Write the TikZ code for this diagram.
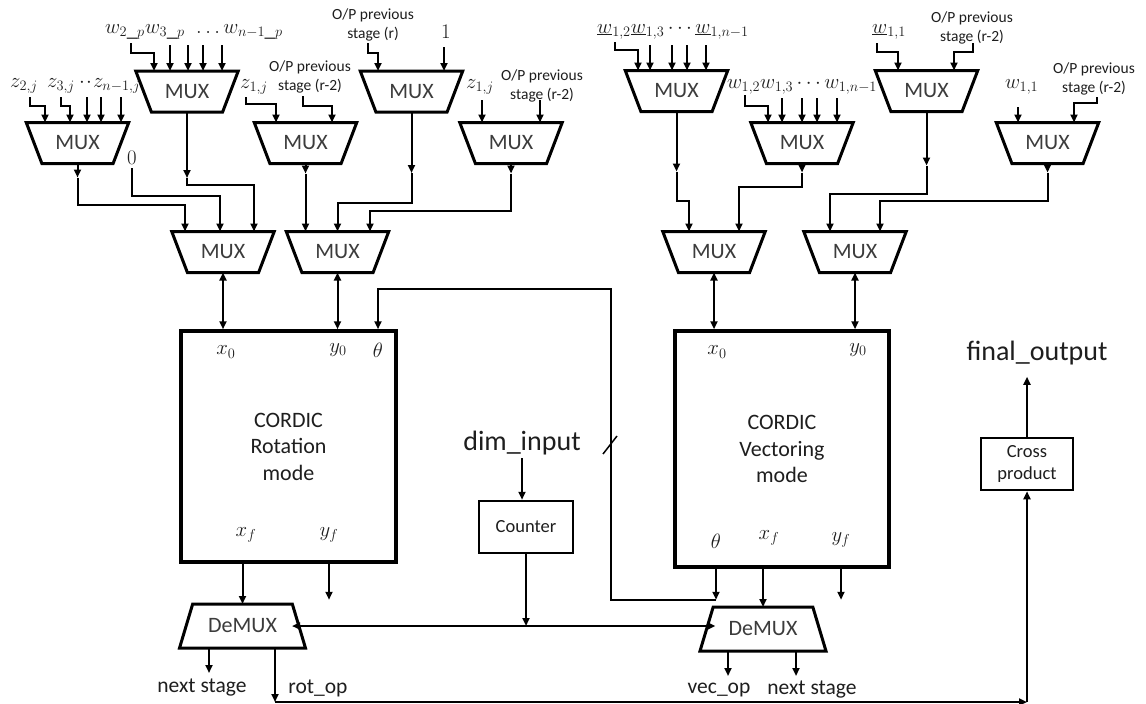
\documentclass[tikz,border=0pt]{standalone}
\usepackage[no-math]{fontspec}
\setmainfont{Carlito}
\usetikzlibrary{shapes.geometric,arrows.meta}
\definecolor{ink}{HTML}{1E1E1E}
\definecolor{muxtext}{HTML}{3C3C3C}
\newcommand{\setfs}[2]{\fontsize{#1}{#2}\selectfont}

\begin{document}
\begin{tikzpicture}[x=1pt, y=-1pt,
  >={Triangle[length=8pt,width=7pt]},
  wire/.style={line width=2pt},
  arr/.style={wire, ->},
  darr/.style={wire, <->},
  mux/.style={draw, line width=3pt, trapezium, trapezium stretches=true,
    shape border rotate=180, trapezium angle=55.7,
    minimum width=103pt, minimum height=41pt, inner sep=0pt,
    text=muxtext, font=\setfs{22}{26}},
  demux/.style={draw, line width=3pt, trapezium, trapezium stretches=true,
    trapezium angle=57.5, minimum width=127pt, minimum height=44pt,
    inner sep=0pt, text=muxtext, font=\setfs{22}{26}},
  cordic/.style={draw, line width=3.5pt, rectangle, align=center,
    text=ink, font=\setfs{22}{26.5}},
  smallbox/.style={draw, line width=2.5pt, rectangle, align=center,
    text=ink, font=\setfs{18.5}{22}},
  mlab/.style={text=ink, inner sep=0pt, font=\setfs{22}{26}},
  wlab/.style={text=ink, inner sep=0pt, anchor=base west, font=\setfs{21}{25}},
  oplab/.style={text=ink, inner sep=0pt, align=center, font=\setfs{15.5}{19}},
  big/.style={text=ink, inner sep=0pt, font=\setfs{28}{32}},
  io/.style={text=ink, inner sep=0pt, font=\setfs{21.5}{25}},
]
\useasboundingbox (0,0) rectangle (1146,704);
\fill[white] (0,0) rectangle (1146,704);

% ---------- multiplexers ----------
\node[mux] (m1) at (77.5,143) {MUX};
\node[mux] (m2) at (187,91.5) {MUX};
\node[mux] (m3) at (305.5,143) {MUX};
\node[mux] (m4) at (411.5,91.5) {MUX};
\node[mux] (m5) at (511,143) {MUX};
\node[mux] (m6) at (676.5,91) {MUX};
\node[mux] (m7) at (802,143) {MUX};
\node[mux] (m8) at (926.5,91) {MUX};
\node[mux] (m9) at (1047.5,143) {MUX};
\node[mux] (l1) at (223,252) {MUX};
\node[mux] (l2) at (337.5,252) {MUX};
\node[mux] (r1) at (714,252) {MUX};
\node[mux] (r2) at (855,252) {MUX};

% ---------- CORDIC blocks ----------
\node[cordic, minimum width=215pt, minimum height=231pt] (rot) at (288.5,446.5) {CORDIC\\Rotation\\mode};
\node[cordic, minimum width=214pt, minimum height=236pt] (vec) at (782,449) {CORDIC\\Vectoring\\mode};

\node[mlab] (rx0) at (226,352) {$x_0$};
\node[mlab] (ry0) at (338,350) {$y_0$};
\node[mlab] (rth) at (378,350) {$\theta$};
\node[mlab] (rxf) at (246,535) {$x_f$};
\node[mlab] (ryf) at (329,535) {$y_f$};
\node[mlab] (vx0) at (717,352) {$x_0$};
\node[mlab] (vy0) at (858,350) {$y_0$};
\node[mlab] (vth) at (716,541) {$\theta$};
\node[mlab] (vxf) at (769,538) {$x_f$};
\node[mlab] (vyf) at (841,540) {$y_f$};

% ---------- other blocks ----------
\node[smallbox, minimum width=94pt, minimum height=52pt] (cnt) at (526,527) {Counter};
\node[smallbox, minimum width=92pt, minimum height=52pt] (cross) at (1027,464) {Cross\\product};
\node[demux] (ldem) at (242.5,626) {DeMUX};
\node[demux] (vdem) at (763,629) {DeMUX};

\node[big] (dim) at (522,443) {dim\_input};
\node[big] (fout) at (1037,353) {final\_output};

% ---------- input labels ----------
\node[wlab] (lz2) at (10,87) {$z_{2,j}$};
\node[wlab] (lz3) at (47,87) {$z_{3,j}$};
\node[wlab] (lzn) at (79,87) {$\cdot\!\cdot\!z_{n-1,j}$};
\node[wlab] (lw2) at (105,33) {$w_{2\_p}$};
\node[wlab] (lw3) at (145,33) {$w_{3\_p}$};
\node[wlab] (lwn) at (196,33) {$\ldots w_{n-1\_p}$};
\node[wlab] (lz1a) at (240,88) {$z_{1,j}$};
\node[oplab] (op3) at (310,76.5) {O/P previous\\stage (r-2)};
\node[oplab] (op4) at (373,24.5) {O/P previous\\stage (r)};
\node[mlab, font=\setfs{20}{24}] (one) at (446,32) {$1$};
\node[mlab, font=\setfs{20}{24}] (zero) at (132,158) {$0$};
\node[wlab] (lz1b) at (466,88) {$z_{1,j}$};
\node[oplab] (op5) at (542,85.5) {O/P previous\\stage (r-2)};
\node[wlab] (lw6) at (597,33) {$\underline{w}_{1,2}\underline{w}_{1,3}\cdots\underline{w}_{1,n-1}$};
\node[wlab] (lw7) at (727,88) {$w_{1,2}w_{1,3}\cdots w_{1,n-1}$};
\node[wlab] (lw8) at (872,33) {$\underline{w}_{1,1}$};
\node[oplab] (op8) at (972,28) {O/P previous\\stage (r-2)};
\node[wlab] (lw9) at (1005,88) {$w_{1,1}$};
\node[oplab] (op9) at (1094,79) {O/P previous\\stage (r-2)};

% ---------- inputs of the first-level multiplexers ----------
\coordinate (i1a) at (30,97);
\coordinate (i1b) at (61,97);
\draw[arr] (i1a) -- ++(0,9) -| ([shift={(-32.5,-20.5)}]m1.center);
\draw[arr] (i1b) -- ++(0,9) -| ([shift={(-7.5,-20.5)}]m1.center);
\foreach \d in {9.5,23.5,43.5}
  \draw[arr] ([shift={(\d,-46)}]m1.center) -- ([shift={(\d,-20.5)}]m1.center);

\coordinate (i2a) at (131,43);
\draw[arr] (i2a) -- ++(0,10) -| ([shift={(-33,-20.5)}]m2.center);
\foreach \d in {-17,1,16,35}
  \draw[arr] ([shift={(\d,-46.5)}]m2.center) -- ([shift={(\d,-20.5)}]m2.center);

\coordinate (i3a) at (246,97);
\coordinate (i3b) at (303,96);
\draw[arr] (i3a) -- ++(0,7) -| ([shift={(-29.5,-20.5)}]m3.center);
\draw[arr] (i3b) -- ++(0,10) -| ([shift={(26.5,-20.5)}]m3.center);

\coordinate (i4a) at (368,43);
\draw[arr] (i4a) -- ++(0,10) -| ([shift={(-33.5,-20.5)}]m4.center);
\draw[arr] ([shift={(32.5,-44.5)}]m4.center) -- ([shift={(32.5,-20.5)}]m4.center);

\foreach \d in {-29,29}
  \draw[arr] ([shift={(\d,-43)}]m5.center) -- ([shift={(\d,-20.5)}]m5.center);

\coordinate (i6a) at (615,42);
\draw[arr] (i6a) -- ++(0,8) -| ([shift={(-38.5,-20.5)}]m6.center);
\foreach \d in {-26.5,-4.5,10.5,29.5}
  \draw[arr] ([shift={(\d,-46)}]m6.center) -- ([shift={(\d,-20.5)}]m6.center);

\coordinate (i7a) at (745,95);
\draw[arr] (i7a) -- ++(0,11) -| ([shift={(-34,-20.5)}]m7.center);
\foreach \d in {-20,0,15,35}
  \draw[arr] ([shift={(\d,-45)}]m7.center) -- ([shift={(\d,-20.5)}]m7.center);

\coordinate (i8a) at (877,43);
\coordinate (i8b) at (973,43);
\draw[arr] (i8a) -- ++(0,9) -| ([shift={(-28.5,-20.5)}]m8.center);
\draw[arr] (i8b) -- ++(0,9) -| ([shift={(27.5,-20.5)}]m8.center);

\coordinate (i9b) at (1097,97);
\draw[arr] ([shift={(-29.5,-36)}]m9.center) -- ([shift={(-29.5,-20.5)}]m9.center);
\draw[arr] (i9b) -- ++(0,6) -| ([shift={(26.5,-20.5)}]m9.center);

% ---------- first level to second level ----------
\draw[arr] ([shift={(0,20.5)}]m1.center) -- ++(0,14) coordinate (o1);
\draw[arr] (o1) -- ++(0,27) -| ([shift={(-38,-20.5)}]l1.center);
\draw[arr] (zero) ++(0,10) -- ++(0,28) -| ([shift={(-3,-20.5)}]l1.center);
\draw[arr] ([shift={(0,20.5)}]m2.center) -- ++(0,66) coordinate (o2);
\draw[arr] (o2) -- ++(0,7) -| ([shift={(31,-20.5)}]l1.center);

\draw[arr] ([shift={(0,20.5)}]m3.center) -- ++(0,10) coordinate (o3);
\draw[arr] (o3) -- ([shift={(-32,-20.5)}]l2.center);
\draw[arr] ([shift={(0,20.5)}]m4.center) -- ++(0,61) coordinate (o4);
\draw[arr] (o4) -- ++(0,30) -| ([shift={(0,-20.5)}]l2.center);
\draw[arr] ([shift={(0,20.5)}]m5.center) -- ++(0,10) coordinate (o5);
\draw[arr] (o5) -- ++(0,37) -| ([shift={(32.5,-20.5)}]l2.center);

\draw[arr] ([shift={(0,20.5)}]m6.center) -- ++(0,60) coordinate (o6);
\draw[arr] (o6) -- ++(0,29) -| ([shift={(-25,-20.5)}]r1.center);
\draw[arr] ([shift={(0,20.5)}]m7.center) -- ++(0,9) coordinate (o7);
\draw[arr] (o7) -- ++(0,14) -| ([shift={(25,-20.5)}]r1.center);
\draw[arr] ([shift={(0,20.5)}]m8.center) -- ++(0,54) coordinate (o8);
\draw[arr] (o8) -- ++(0,28) -| ([shift={(-25,-20.5)}]r2.center);
\draw[arr] ([shift={(0,20.5)}]m9.center) -- ++(0,9) coordinate (o9);
\draw[arr] (o9) -- ++(0,28) -| ([shift={(25,-20.5)}]r2.center);

% ---------- second level to the CORDIC blocks ----------
\draw[darr] ([shift={(0,20.5)}]l1.center) -- (l1.center |- rot.north);
\draw[darr] ([shift={(0,20.5)}]l2.center) -- (l2.center |- rot.north);
\draw[darr] ([shift={(0,20.5)}]r1.center) -- (r1.center |- vec.north);
\draw[darr] ([shift={(0,20.5)}]r2.center) -- (r2.center |- vec.north);

% ---------- angle fed back from vectoring to rotation ----------
\draw[arr] (vth |- vec.south) -- ++(0,31) coordinate (tj);
\coordinate (bend) at (611,289);
\draw[arr] (tj) -| (bend) -| (rth |- rot.north);
\draw[line width=1.5pt] (603,454) -- (617,436);

% ---------- CORDIC outputs ----------
\draw[arr] (rot.south -| ldem.center) -- ([shift={(0,-22)}]ldem.center);
\draw[arr] (ryf |- rot.south) -- ++(0,36);
\draw[arr] (vdem.center |- vec.south) -- ([shift={(0,-22)}]vdem.center);
\draw[arr] (vyf |- vec.south) -- ++(0,31);

% ---------- counter and demultiplexer select ----------
\draw[arr] ([yshift=-15pt]dim.center) -- (dim.center |- cnt.north);
\draw[darr] ([xshift=49.5pt]ldem.center) -- ([shift={(-47.6,-3)}]vdem.center);
\draw[arr] (cnt.south) -- (cnt.south |- ldem.center);

% ---------- demultiplexer outputs ----------
\node[io] (ns1) at (202,688) {next stage};
\node[io] (rop) at (318,688) {rot\_op};
\node[io] (vop) at (719,690) {vec\_op};
\node[io] (ns2) at (812,690) {next stage};
\draw[arr] ([shift={(-33.5,22)}]ldem.center) -- ++(0,25);
\draw[arr] ([shift={(-35,22)}]vdem.center) -- ++(0,25);
\draw[arr] ([shift={(33,22)}]vdem.center) -- ++(0,25);

\coordinate (c1) at (275,702);
\coordinate (c2) at (1027,702);
\draw[arr] ([shift={(32.5,22)}]ldem.center) -- (c1);
\draw[arr] (c1) -- (c2);
\draw[arr] (c2) -- (cross.south);
\draw[arr] (cross.north) -- ++(0,-60);
\end{tikzpicture}
\end{document}
